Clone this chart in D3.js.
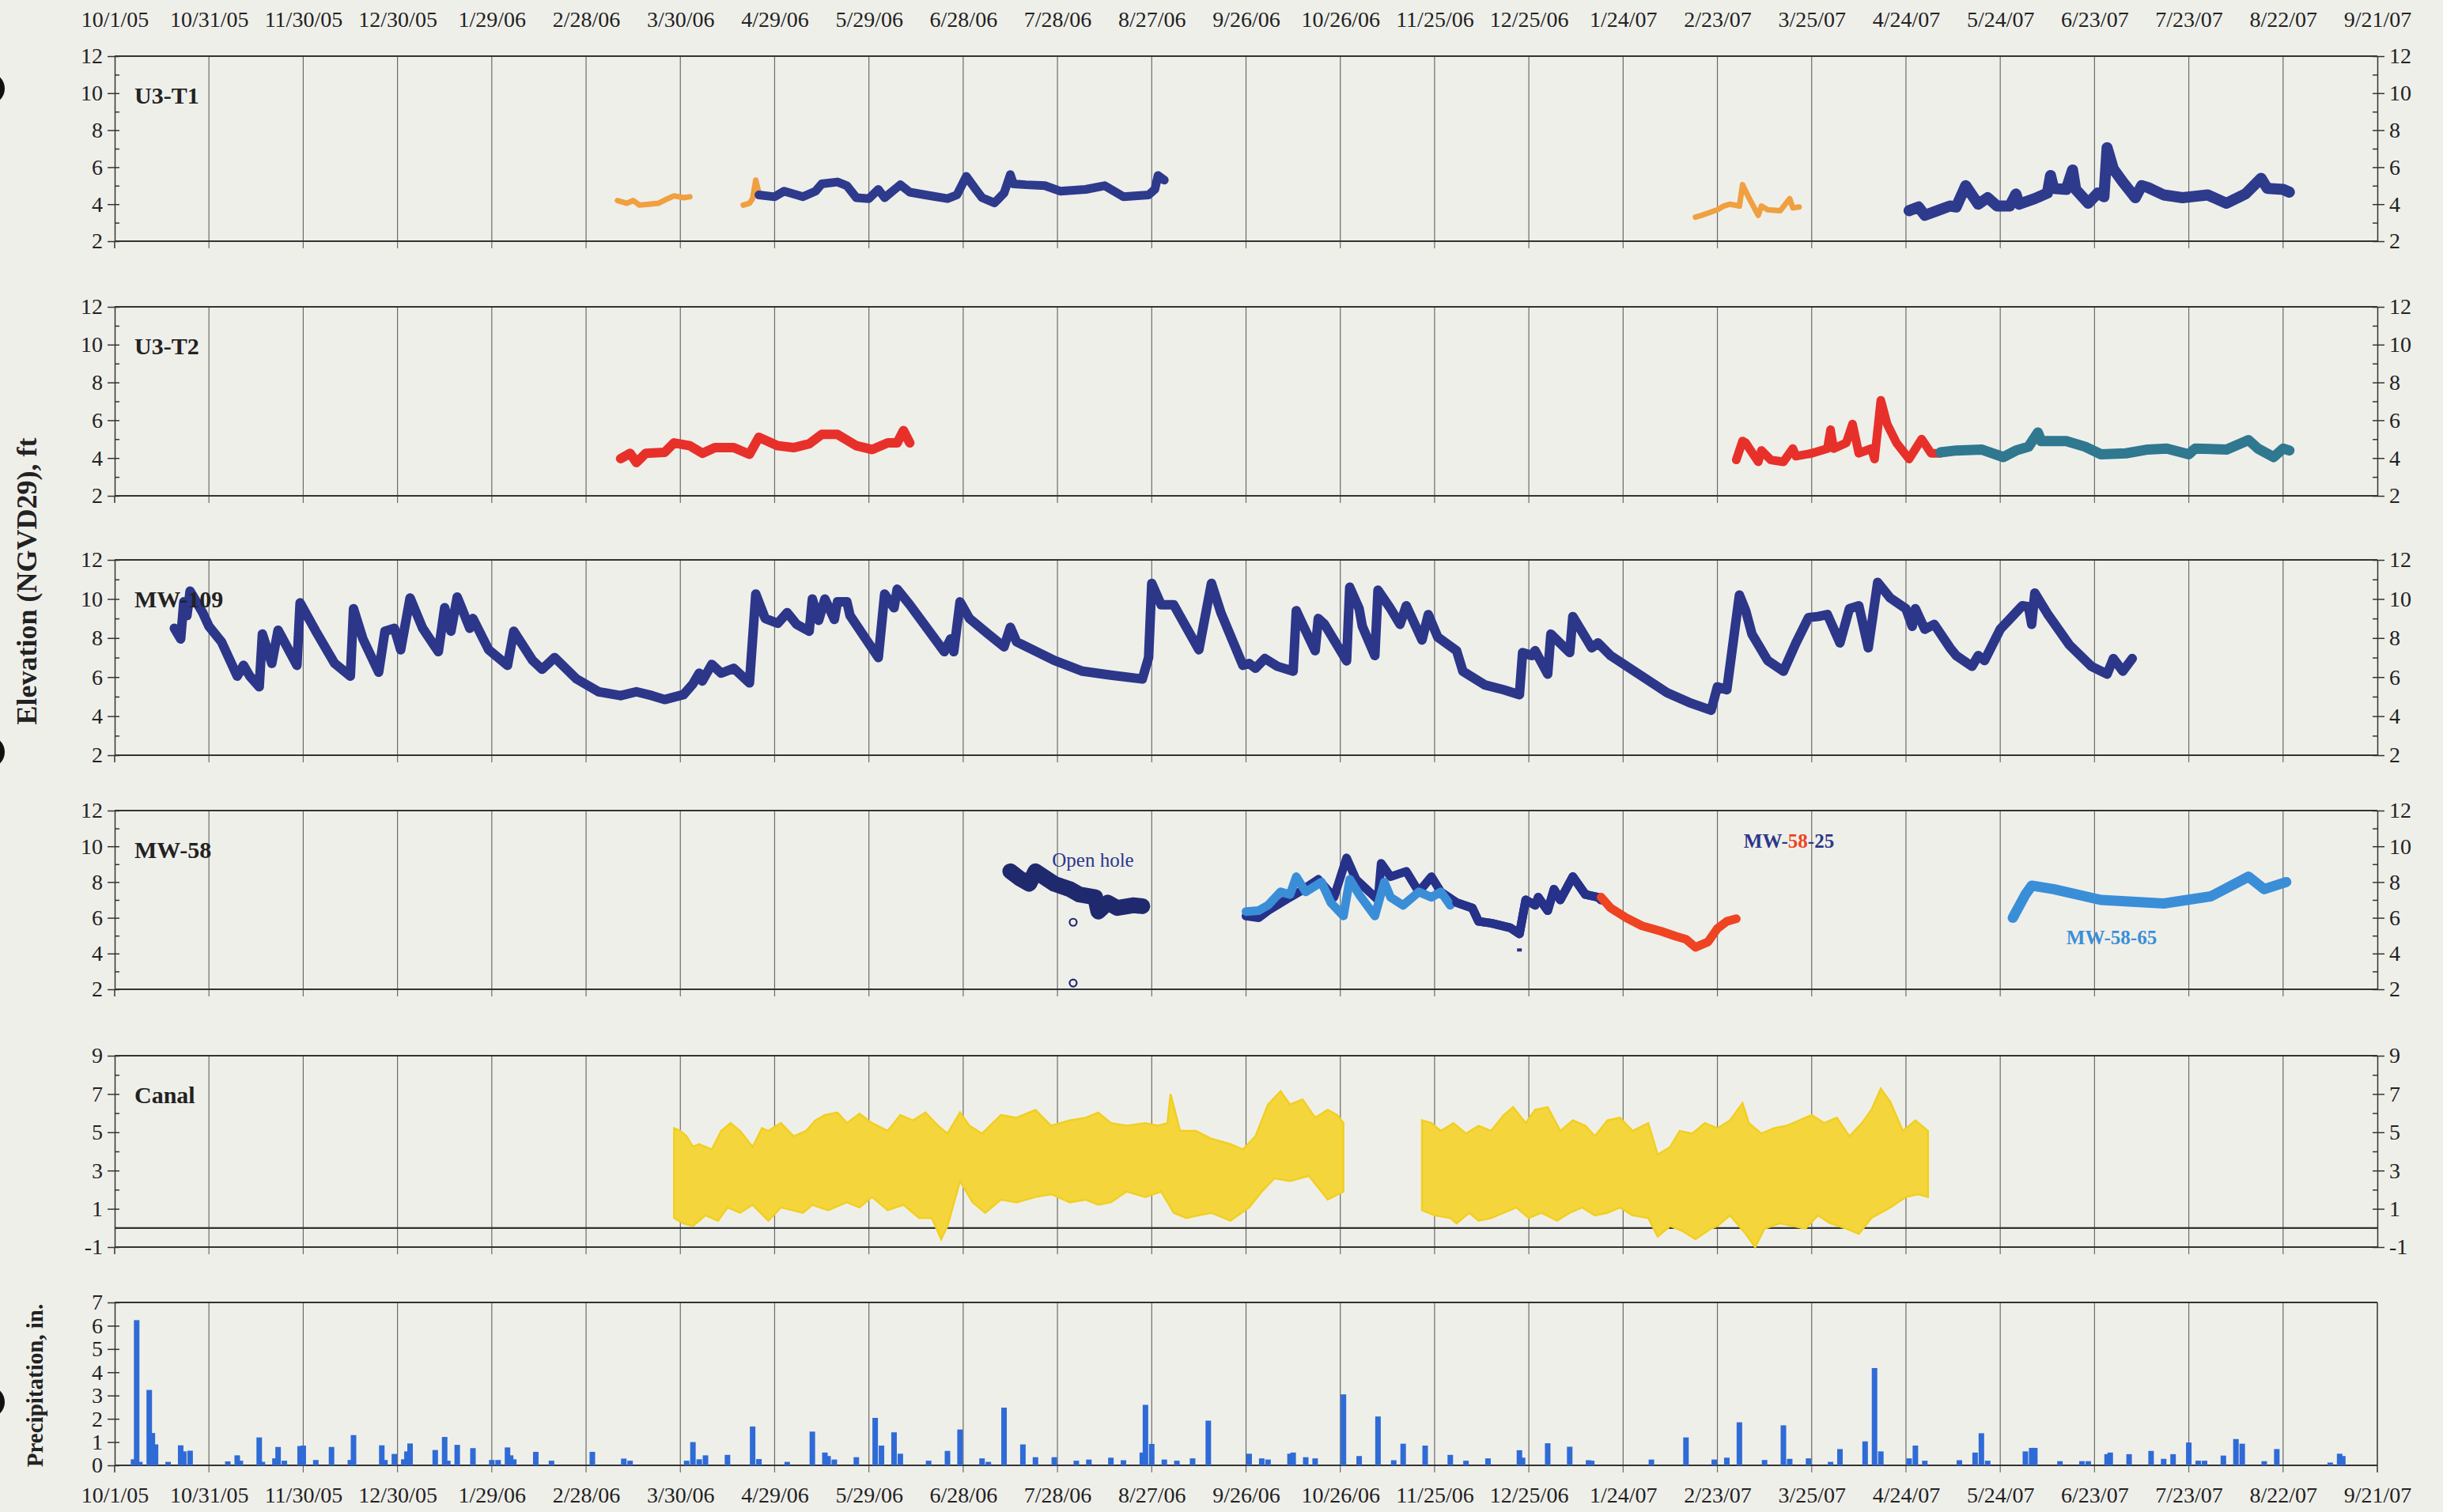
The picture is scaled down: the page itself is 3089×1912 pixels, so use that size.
<!DOCTYPE html>
<html>
<head>
<meta charset="utf-8">
<script src="https://cdnjs.cloudflare.com/ajax/libs/d3/7.8.5/d3.min.js"></script>
<style>
  body { margin: 0; background: #efefea; }
  svg { display: block; }
  text { font-family: "Liberation Serif", "Times New Roman", serif; fill: #222; }
</style>
</head>
<body>
<div id="chart"></div>
<script>
// ---- data (dates m/d/yy, elevations ft NGVD29, precipitation in.) ----
const u3t1Orange06 = [["3/10/06",4.2],["3/13/06",4.05],["3/15/06",4.2],["3/17/06",3.95],["3/20/06",4.0],["3/23/06",4.05],["3/26/06",4.3],["3/28/06",4.45],["3/31/06",4.35],["4/2/06",4.4]];
const u3t1Orange06b = [["4/19/06",3.95],["4/21/06",4.05],["4/22/06",4.3],["4/23/06",5.3],["4/24/06",4.6]];
const u3t1Blue06 = [["4/24/06",4.5],["4/29/06",4.4],["5/2/06",4.7],["5/8/06",4.4],["5/12/06",4.7],["5/14/06",5.1],["5/19/06",5.2],["5/22/06",5.0],["5/25/06",4.35],["5/29/06",4.3],["6/1/06",4.8],["6/3/06",4.35],["6/8/06",5.05],["6/11/06",4.65],["6/16/06",4.5],["6/23/06",4.3],["6/26/06",4.5],["6/29/06",5.5],["7/2/06",4.8],["7/4/06",4.35],["7/8/06",4.07],["7/11/06",4.6],["7/13/06",5.6],["7/14/06",5.1],["7/18/06",5.05],["7/24/06",5.0],["7/29/06",4.7],["8/6/06",4.8],["8/12/06",5.0],["8/18/06",4.4],["8/26/06",4.5],["8/28/06",4.8],["8/29/06",5.55],["8/31/06",5.3]];
const u3t1Orange07 = [["2/16/07",3.3],["2/18/07",3.4],["2/23/07",3.7],["2/25/07",3.9],["2/27/07",4.0],["3/2/07",3.9],["3/3/07",5.05],["3/5/07",4.35],["3/8/07",3.4],["3/9/07",3.9],["3/11/07",3.7],["3/15/07",3.65],["3/18/07",4.3],["3/19/07",3.8],["3/21/07",3.85]];
const u3t1Blue07 = [["4/25/07",3.65],["4/28/07",3.85],["4/30/07",3.4],["5/4/07",3.65],["5/8/07",3.9],["5/10/07",3.85],["5/13/07",5.0],["5/15/07",4.5],["5/17/07",4.0],["5/20/07",4.35],["5/23/07",3.9],["5/27/07",3.9],["5/29/07",4.55],["5/30/07",4.0],["6/4/07",4.3],["6/8/07",4.6],["6/9/07",5.55],["6/10/07",4.85],["6/14/07",4.8],["6/16/07",5.85],["6/17/07",4.8],["6/21/07",4.05],["6/24/07",4.6],["6/26/07",4.4],["6/27/07",7.05],["6/29/07",5.9],["7/2/07",5.2],["7/6/07",4.35],["7/8/07",5.0],["7/10/07",4.9],["7/15/07",4.5],["7/21/07",4.35],["7/29/07",4.5],["8/4/07",4.05],["8/10/07",4.55],["8/15/07",5.4],["8/17/07",4.85],["8/22/07",4.8],["8/24/07",4.65]];

const u3t2Red06 = [["3/11/06",3.97],["3/14/06",4.25],["3/16/06",3.76],["3/19/06",4.25],["3/25/06",4.3],["3/28/06",4.8],["4/2/06",4.65],["4/6/06",4.25],["4/10/06",4.55],["4/16/06",4.55],["4/21/06",4.2],["4/24/06",5.1],["4/30/06",4.65],["5/5/06",4.55],["5/10/06",4.75],["5/14/06",5.25],["5/19/06",5.25],["5/25/06",4.65],["5/30/06",4.45],["6/4/06",4.8],["6/7/06",4.8],["6/9/06",5.45],["6/11/06",4.8]];
const u3t2Red07 = [["3/1/07",3.9],["3/3/07",4.9],["3/4/07",4.8],["3/8/07",3.8],["3/9/07",4.4],["3/12/07",3.9],["3/16/07",3.8],["3/19/07",4.5],["3/20/07",4.1],["3/25/07",4.25],["3/30/07",4.5],["3/31/07",5.5],["4/1/07",4.5],["4/5/07",4.8],["4/7/07",5.8],["4/9/07",4.25],["4/13/07",4.5],["4/14/07",3.95],["4/16/07",7.05],["4/18/07",5.8],["4/21/07",4.8],["4/25/07",3.95],["4/29/07",5.0],["5/2/07",4.25],["5/5/07",4.25]];
const u3t2Teal07 = [["5/5/07",4.3],["5/10/07",4.4],["5/18/07",4.45],["5/25/07",4.05],["5/29/07",4.4],["6/2/07",4.6],["6/5/07",5.35],["6/6/07",4.9],["6/14/07",4.9],["6/20/07",4.6],["6/25/07",4.2],["7/3/07",4.25],["7/10/07",4.45],["7/16/07",4.5],["7/23/07",4.2],["7/25/07",4.5],["8/4/07",4.45],["8/11/07",4.95],["8/14/07",4.5],["8/19/07",4.05],["8/22/07",4.5],["8/24/07",4.4]];

const mw109 = [["10/20/05",8.5],["10/22/05",7.95],["10/23/05",9.85],["10/24/05",9.15],["10/25/05",10.4],["10/29/05",9.3],["10/31/05",8.6],["11/4/05",7.8],["11/9/05",6.05],["11/11/05",6.6],["11/13/05",6.05],["11/16/05",5.5],["11/17/05",8.2],["11/20/05",6.7],["11/22/05",8.4],["11/28/05",6.6],["11/29/05",9.8],["12/4/05",8.35],["12/10/05",6.7],["12/15/05",6.05],["12/16/05",9.5],["12/19/05",7.95],["12/24/05",6.25],["12/26/05",8.35],["12/29/05",8.5],["12/31/05",7.4],["1/3/06",10.05],["1/7/06",8.5],["1/12/06",7.3],["1/14/06",9.55],["1/16/06",8.35],["1/18/06",10.1],["1/22/06",8.5],["1/23/06",9.0],["1/28/06",7.4],["2/3/06",6.6],["2/5/06",8.35],["2/11/06",6.85],["2/14/06",6.4],["2/18/06",7.0],["2/25/06",5.9],["3/4/06",5.25],["3/11/06",5.05],["3/16/06",5.25],["3/21/06",5.05],["3/25/06",4.85],["3/31/06",5.1],["4/3/06",5.65],["4/5/06",6.2],["4/6/06",5.8],["4/9/06",6.65],["4/12/06",6.2],["4/16/06",6.45],["4/21/06",5.7],["4/23/06",10.25],["4/26/06",9.0],["4/30/06",8.75],["5/3/06",9.3],["5/6/06",8.7],["5/10/06",8.35],["5/11/06",10.0],["5/13/06",8.9],["5/15/06",10.0],["5/18/06",8.95],["5/19/06",9.85],["5/22/06",9.85],["5/23/06",9.15],["6/1/06",7.0],["6/3/06",10.25],["6/6/06",9.55],["6/7/06",10.5],["6/11/06",9.7],["6/22/06",7.3],["6/24/06",7.95],["6/25/06",7.3],["6/27/06",9.85],["6/30/06",9.0],["7/6/06",8.2],["7/11/06",7.55],["7/13/06",8.55],["7/15/06",7.8],["7/27/06",6.85],["8/5/06",6.3],["8/14/06",6.1],["8/24/06",5.9],["8/26/06",7.0],["8/27/06",10.8],["8/30/06",9.7],["9/3/06",9.7],["9/11/06",7.4],["9/15/06",10.8],["9/18/06",9.3],["9/25/06",6.6],["9/27/06",6.7],["9/29/06",6.45],["10/2/06",6.95],["10/6/06",6.55],["10/11/06",6.3],["10/12/06",9.4],["10/14/06",8.7],["10/18/06",7.35],["10/19/06",9.0],["10/21/06",8.7],["10/28/06",6.83],["10/29/06",10.6],["11/1/06",9.5],["11/2/06",8.6],["11/6/06",7.1],["11/7/06",10.45],["11/11/06",9.5],["11/14/06",8.7],["11/16/06",9.65],["11/21/06",7.9],["11/23/06",9.2],["11/26/06",8.05],["12/2/06",7.35],["12/4/06",6.3],["12/11/06",5.6],["12/17/06",5.35],["12/22/06",5.1],["12/23/06",7.25],["12/26/06",7.1],["12/27/06",7.35],["12/31/06",6.15],["1/1/07",8.2],["1/7/07",7.25],["1/8/07",9.1],["1/14/07",7.5],["1/16/07",7.75],["1/20/07",7.1],["1/29/07",6.15],["2/7/07",5.2],["2/14/07",4.7],["2/21/07",4.3],["2/23/07",5.5],["2/26/07",5.35],["3/2/07",10.2],["3/4/07",9.4],["3/6/07",8.2],["3/11/07",6.85],["3/16/07",6.3],["3/20/07",7.75],["3/24/07",9.05],["3/27/07",9.1],["3/30/07",9.2],["4/3/07",7.75],["4/6/07",9.5],["4/9/07",9.65],["4/12/07",7.5],["4/15/07",10.85],["4/19/07",10.05],["4/24/07",9.5],["4/26/07",8.6],["4/27/07",9.5],["4/30/07",8.45],["5/3/07",8.7],["5/8/07",7.5],["5/10/07",7.1],["5/15/07",6.55],["5/17/07",7.1],["5/19/07",6.85],["5/24/07",8.45],["5/31/07",9.65],["6/2/07",9.6],["6/3/07",8.7],["6/4/07",10.3],["6/8/07",9.25],["6/15/07",7.65],["6/22/07",6.55],["6/27/07",6.15],["6/29/07",6.95],["7/2/07",6.3],["7/5/07",6.95]];

const mw58OpenHole = [["7/13/06",8.6],["7/16/06",8.2],["7/19/06",7.9],["7/21/06",8.6],["7/27/06",7.9],["8/1/06",7.6],["8/4/06",7.3],["8/9/06",7.15],["8/10/06",6.35],["8/13/06",6.85],["8/16/06",6.55],["8/21/06",6.7],["8/24/06",6.65]];
const mw58OpenHoleOutliers = [["8/2/06",5.75],["8/2/06",2.35]];
const mw58Shallow06 = [["9/26/06",6.35],["9/30/06",6.4],["10/3/06",6.7],["10/7/06",7.45],["10/10/06",7.3],["10/12/06",8.3],["10/15/06",7.45],["10/20/06",8.0],["10/23/06",6.85],["10/27/06",6.1],["10/29/06",8.15],["11/1/06",7.3],["11/6/06",6.1],["11/9/06",8.0],["11/11/06",7.15],["11/15/06",6.7],["11/20/06",7.45],["11/24/06",7.15],["11/27/06",7.45],["11/30/06",6.7]];
const mw58Deep06 = [["9/26/06",6.1],["9/30/06",6.0],["10/3/06",6.4],["10/10/06",7.15],["10/13/06",7.45],["10/19/06",8.15],["10/24/06",7.15],["10/28/06",9.35],["10/31/06",8.15],["11/7/06",7.0],["11/8/06",9.05],["11/11/06",8.3],["11/16/06",8.6],["11/20/06",7.45],["11/24/06",8.3],["11/27/06",7.45],["12/2/06",6.85],["12/7/06",6.55],["12/9/06",5.8],["12/13/06",5.7],["12/19/06",5.45],["12/22/06",5.1],["12/24/06",7.0],["12/27/06",6.7],["12/28/06",7.15],["12/31/06",6.4],["1/2/07",7.6],["1/4/07",7.0],["1/8/07",8.3],["1/12/07",7.3],["1/16/07",7.15],["1/17/07",7.0]];
const mw58Deep06Outliers = [["12/22/06",4.2]];
const mw58_25 = [["1/17/07",7.15],["1/20/07",6.55],["1/25/07",6.0],["1/30/07",5.55],["2/5/07",5.25],["2/10/07",4.95],["2/13/07",4.8],["2/16/07",4.35],["2/20/07",4.65],["2/23/07",5.4],["2/26/07",5.8],["3/1/07",5.95]];
const mw58_65 = [["5/28/07",6.0],["6/1/07",7.3],["6/3/07",7.8],["6/10/07",7.6],["6/25/07",7.0],["7/15/07",6.8],["7/30/07",7.2],["8/11/07",8.3],["8/16/07",7.6],["8/23/07",8.0]];

// canal: upper and lower edges of the tidal range, two record periods
const canalHigh06 = [["3/28/06",5.21],["3/30/06",5.07],["4/1/06",4.79],["4/3/06",4.24],["4/5/06",4.38],["4/9/06",4.1],["4/12/06",5.07],["4/15/06",5.48],["4/18/06",5.07],["4/22/06",4.24],["4/25/06",5.21],["4/27/06",5.07],["5/1/06",5.48],["5/5/06",4.79],["5/9/06",5.07],["5/12/06",5.62],["5/15/06",5.9],["5/19/06",6.03],["5/22/06",5.48],["5/26/06",5.97],["5/30/06",5.48],["6/4/06",5.07],["6/8/06",5.9],["6/12/06",5.62],["6/16/06",6.03],["6/20/06",5.34],["6/23/06",4.93],["6/27/06",6.03],["6/30/06",5.34],["7/4/06",4.93],["7/10/06",5.9],["7/15/06",5.76],["7/21/06",6.17],["7/26/06",5.34],["8/1/06",5.62],["8/6/06",5.76],["8/10/06",6.03],["8/14/06",5.48],["8/19/06",5.34],["8/25/06",5.48],["8/29/06",5.34],["9/1/06",5.48],["9/2/06",7.0],["9/5/06",5.07],["9/10/06",5.07],["9/15/06",4.66],["9/21/06",4.38],["9/25/06",4.1],["9/29/06",4.79],["10/3/06",6.45],["10/7/06",7.14],["10/10/06",6.45],["10/14/06",6.72],["10/18/06",5.76],["10/22/06",6.17],["10/25/06",5.9],["10/27/06",5.48]];
const canalLow06 = [["3/28/06",0.52],["3/31/06",0.24],["4/3/06",0.1],["4/7/06",0.66],["4/11/06",0.38],["4/14/06",1.07],["4/18/06",0.79],["4/22/06",1.21],["4/27/06",0.38],["5/1/06",1.07],["5/8/06",0.79],["5/11/06",1.21],["5/16/06",0.93],["5/22/06",1.34],["5/26/06",1.07],["5/30/06",1.62],["6/4/06",0.93],["6/9/06",1.21],["6/14/06",0.52],["6/18/06",0.52],["6/21/06",-0.59],["6/23/06",0.1],["6/27/06",2.45],["7/1/06",1.34],["7/5/06",0.79],["7/10/06",1.48],["7/15/06",1.34],["7/21/06",1.62],["7/26/06",1.76],["8/1/06",1.34],["8/6/06",1.48],["8/10/06",1.21],["8/14/06",1.34],["8/19/06",1.9],["8/25/06",1.62],["8/30/06",1.9],["9/3/06",0.79],["9/7/06",0.52],["9/11/06",0.66],["9/15/06",0.79],["9/21/06",0.38],["9/27/06",1.07],["10/1/06",1.9],["10/5/06",2.59],["10/10/06",2.45],["10/16/06",2.72],["10/20/06",1.9],["10/22/06",1.48],["10/27/06",1.9]];
const canalHigh07 = [["11/21/06",5.62],["11/24/06",5.48],["11/27/06",5.07],["12/1/06",5.48],["12/5/06",4.93],["12/9/06",5.34],["12/13/06",5.07],["12/17/06",5.9],["12/20/06",6.31],["12/24/06",5.48],["12/27/06",6.17],["12/31/06",6.31],["1/4/07",5.07],["1/8/07",5.62],["1/12/07",5.34],["1/15/07",4.79],["1/19/07",5.62],["1/23/07",5.76],["1/27/07",5.07],["2/1/07",5.48],["2/4/07",3.83],["2/8/07",4.24],["2/11/07",5.07],["2/15/07",4.93],["2/19/07",5.48],["2/23/07",5.21],["2/27/07",5.62],["3/3/07",6.52],["3/5/07",5.48],["3/9/07",4.93],["3/13/07",5.21],["3/17/07",5.34],["3/21/07",5.62],["3/25/07",5.9],["3/29/07",5.48],["4/2/07",5.76],["4/6/07",4.79],["4/10/07",5.48],["4/13/07",6.17],["4/16/07",7.28],["4/19/07",6.59],["4/23/07",5.07],["4/27/07",5.62],["5/1/07",5.07]];
const canalLow07 = [["11/21/06",0.93],["11/25/06",0.66],["11/30/06",0.52],["12/2/06",0.24],["12/6/06",0.79],["12/9/06",0.38],["12/13/06",0.52],["12/17/06",0.79],["12/21/06",1.07],["12/25/06",0.52],["12/29/06",0.79],["1/3/07",0.38],["1/7/07",0.79],["1/11/07",1.07],["1/15/07",0.66],["1/19/07",0.79],["1/23/07",1.07],["1/27/07",0.66],["2/1/07",0.52],["2/4/07",-0.45],["2/8/07",0.1],["2/12/07",-0.17],["2/16/07",-0.59],["2/21/07",-0.03],["2/23/07",0.1],["2/27/07",0.66],["3/4/07",-0.31],["3/7/07",-1.0],["3/10/07",-0.03],["3/15/07",0.24],["3/19/07",0.1],["3/23/07",-0.03],["3/27/07",0.66],["3/31/07",0.24],["4/5/07",-0.03],["4/9/07",-0.31],["4/13/07",0.52],["4/19/07",1.07],["4/24/07",1.62],["4/28/07",1.76],["5/1/07",1.62]];

const precip = [["10/7/05",0.26],["10/8/05",6.24],["10/9/05",0.15],["10/12/05",3.24],["10/13/05",1.39],["10/14/05",0.9],["10/18/05",0.15],["10/22/05",0.86],["10/23/05",0.6],["10/25/05",0.63],["11/6/05",0.17],["11/9/05",0.43],["11/10/05",0.2],["11/16/05",1.2],["11/17/05",0.15],["11/21/05",0.3],["11/22/05",0.79],["11/24/05",0.2],["11/29/05",0.83],["11/30/05",0.85],["12/4/05",0.23],["12/9/05",0.79],["12/15/05",0.23],["12/16/05",1.3],["12/25/05",0.86],["12/26/05",0.23],["12/29/05",0.49],["1/1/06",0.26],["1/2/06",0.6],["1/3/06",0.94],["1/11/06",0.66],["1/14/06",1.22],["1/15/06",0.2],["1/18/06",0.88],["1/23/06",0.74],["1/29/06",0.23],["1/31/06",0.23],["2/3/06",0.77],["2/4/06",0.43],["2/5/06",0.26],["2/12/06",0.58],["2/17/06",0.2],["3/2/06",0.58],["3/12/06",0.29],["3/14/06",0.2],["4/1/06",0.2],["4/3/06",1.0],["4/5/06",0.26],["4/7/06",0.43],["4/14/06",0.45],["4/22/06",1.67],["4/24/06",0.27],["5/3/06",0.15],["5/11/06",1.45],["5/15/06",0.55],["5/16/06",0.4],["5/18/06",0.25],["5/25/06",0.35],["5/31/06",2.04],["6/2/06",0.85],["6/6/06",1.42],["6/8/06",0.5],["6/17/06",0.2],["6/23/06",0.62],["6/27/06",1.54],["7/4/06",0.3],["7/6/06",0.15],["7/11/06",2.48],["7/17/06",0.9],["7/21/06",0.35],["7/27/06",0.35],["8/3/06",0.2],["8/7/06",0.25],["8/14/06",0.33],["8/18/06",0.22],["8/24/06",0.55],["8/25/06",2.6],["8/27/06",0.92],["8/31/06",0.25],["9/4/06",0.2],["9/9/06",0.3],["9/14/06",1.92],["9/27/06",0.5],["10/1/06",0.3],["10/3/06",0.25],["10/10/06",0.5],["10/11/06",0.55],["10/15/06",0.35],["10/18/06",0.3],["10/27/06",3.05],["11/1/06",0.4],["11/7/06",2.1],["11/12/06",0.22],["11/15/06",0.93],["11/22/06",0.85],["11/30/06",0.45],["12/5/06",0.2],["12/12/06",0.3],["12/22/06",0.65],["12/23/06",0.33],["12/31/06",0.95],["1/7/07",0.8],["1/13/07",0.22],["1/14/07",0.2],["2/2/07",0.25],["2/13/07",1.2],["2/22/07",0.25],["2/26/07",0.33],["3/2/07",1.85],["3/10/07",0.23],["3/16/07",1.72],["3/18/07",0.28],["3/24/07",0.3],["3/31/07",0.15],["4/3/07",0.7],["4/11/07",1.03],["4/14/07",4.18],["4/16/07",0.6],["4/25/07",0.3],["4/27/07",0.85],["4/30/07",0.2],["5/11/07",0.22],["5/16/07",0.55],["5/18/07",1.38],["5/20/07",0.2],["6/1/07",0.6],["6/3/07",0.75],["6/4/07",0.75],["6/12/07",0.18],["6/19/07",0.18],["6/21/07",0.18],["6/27/07",0.48],["6/28/07",0.55],["7/4/07",0.48],["7/11/07",0.62],["7/15/07",0.28],["7/18/07",0.48],["7/23/07",0.98],["7/26/07",0.2],["7/28/07",0.2],["8/3/07",0.42],["8/7/07",1.13],["8/9/07",0.93],["8/16/07",0.18],["8/20/07",0.7],["9/6/07",0.12],["9/9/07",0.5],["9/10/07",0.4]];

// ---- layout ----
const parseDate = d3.timeParse("%m/%d/%y");
const fmt = d3.timeFormat("%-m/%-d/%y");
const startDate = parseDate("10/1/05");
const tickDates = d3.range(25).map(i => d3.timeDay.offset(startDate, i * 30));

const x = d3.scaleTime()
    .domain([startDate, tickDates[24]])
    .range([145, 3006]);
const x0 = x.range()[0], x1 = x.range()[1];

const svg = d3.select("#chart").append("svg")
    .attr("width", 3089)
    .attr("height", 1912);

svg.append("rect").attr("width", 3089).attr("height", 1912).attr("fill", "#efefea");

// binder holes on the scanned page
[112, 951, 1773].forEach(cy => {
    svg.append("circle").attr("cx", -14).attr("cy", cy).attr("r", 20).attr("fill", "#111");
});

const panels = [
    { label: "U3-T1", top: 71, bottom: 305, domain: [2, 12], major: [2, 4, 6, 8, 10, 12], minor: [3, 5, 7, 9, 11] },
    { label: "U3-T2", top: 388, bottom: 627, domain: [2, 12], major: [2, 4, 6, 8, 10, 12], minor: [3, 5, 7, 9, 11] },
    { label: "MW-109", top: 708, bottom: 955, domain: [2, 12], major: [2, 4, 6, 8, 10, 12], minor: [3, 5, 7, 9, 11] },
    { label: "MW-58", top: 1025, bottom: 1251, domain: [2, 12], major: [2, 4, 6, 8, 10, 12], minor: [3, 5, 7, 9, 11] },
    { label: "Canal", top: 1335, bottom: 1577, domain: [-1, 9], major: [-1, 1, 3, 5, 7, 9], minor: [0, 2, 4, 6, 8], zero: true },
    { label: null, top: 1647, bottom: 1853, domain: [0, 7], major: [0, 1, 2, 3, 4, 5, 6, 7], minor: [], noRight: true }
];
const plain = d => String(d);

panels.forEach(p => {
    p.y = d3.scaleLinear().domain(p.domain).range([p.bottom, p.top]);
    const g = svg.append("g");

    // vertical grid lines, running a little below the panel as tick marks
    g.selectAll(".grid").data(tickDates.slice(1, 24)).join("line")
        .attr("x1", d => x(d)).attr("x2", d => x(d))
        .attr("y1", p.top).attr("y2", p.bottom + 9)
        .attr("stroke", "#6a6a6a").attr("stroke-width", 1.2);

    // top & bottom frame
    [p.top, p.bottom].forEach(yy => {
        g.append("line").attr("x1", x0).attr("x2", x1).attr("y1", yy).attr("y2", yy)
            .attr("stroke", "#333").attr("stroke-width", 2.2);
    });
    if (p.zero) {
        g.append("line").attr("x1", x0).attr("x2", x1).attr("y1", p.y(0)).attr("y2", p.y(0))
            .attr("stroke", "#333").attr("stroke-width", 2.2);
    }

    // left axis: labels + outward major ticks, then inner ticks
    g.append("g").attr("class", "axis")
        .attr("transform", `translate(${x0},0)`)
        .call(d3.axisLeft(p.y).tickValues(p.major).tickFormat(plain).tickSizeInner(9).tickSizeOuter(0).tickPadding(6));
    g.append("g").attr("class", "axis")
        .attr("transform", `translate(${x0},0)`)
        .call(d3.axisRight(p.y).tickValues(p.major.concat(p.minor)).tickSize(6).tickFormat(""))
        .select(".domain").remove();
    g.append("line").attr("x1", x0).attr("x2", x0).attr("y1", p.bottom).attr("y2", p.bottom + 9)
        .attr("stroke", "#333").attr("stroke-width", 1.5);

    if (!p.noRight) {
        g.append("g").attr("class", "axis")
            .attr("transform", `translate(${x1},0)`)
            .call(d3.axisRight(p.y).tickValues(p.major).tickFormat(plain).tickSizeInner(9).tickSizeOuter(0).tickPadding(6));
        g.append("g").attr("class", "axis")
            .attr("transform", `translate(${x1},0)`)
            .call(d3.axisLeft(p.y).tickValues(p.major.concat(p.minor)).tickSize(6).tickFormat(""))
            .select(".domain").remove();
    } else {
        g.append("line").attr("x1", x1).attr("x2", x1).attr("y1", p.top).attr("y2", p.bottom + 9)
            .attr("stroke", "#333").attr("stroke-width", 1.5);
    }
});

svg.selectAll(".axis path, .axis line").attr("stroke", "#333").attr("stroke-width", 1.5);
svg.selectAll(".axis text").attr("font-size", 28).attr("fill", "#222")
    .attr("font-family", "'Liberation Serif', serif");

// date labels top & bottom
svg.append("g").attr("class", "dates")
    .attr("transform", "translate(0,34)")
    .call(d3.axisTop(x).tickValues(tickDates).tickFormat(fmt).tickSize(0).tickPadding(0))
    .call(g => g.select(".domain").remove());
svg.append("g").attr("class", "dates")
    .attr("transform", "translate(0,1880)")
    .call(d3.axisBottom(x).tickValues(tickDates).tickFormat(fmt).tickSize(0).tickPadding(0))
    .call(g => g.select(".domain").remove());
svg.selectAll(".dates text").attr("font-size", 28).attr("fill", "#222")
    .attr("font-family", "'Liberation Serif', serif");

// ---- series ----
function drawLine(p, data, color, width) {
    const line = d3.line()
        .x(d => x(parseDate(d[0])))
        .y(d => p.y(d[1]));
    svg.append("path").datum(data)
        .attr("d", line)
        .attr("fill", "none")
        .attr("stroke", color)
        .attr("stroke-width", width)
        .attr("stroke-linejoin", "round")
        .attr("stroke-linecap", "round");
}
function drawRings(p, data, color) {
    svg.append("g").selectAll("circle").data(data).join("circle")
        .attr("cx", d => x(parseDate(d[0])))
        .attr("cy", d => p.y(d[1]))
        .attr("r", 4.5)
        .attr("fill", "none")
        .attr("stroke", color)
        .attr("stroke-width", 2.2);
}

const [pT1, pT2, pMW109, pMW58, pCanal, pRain] = panels;

// canal tidal band (drawn first so the frame lines stay visible on top of it)
const bandLine = d3.line()
    .x(d => x(parseDate(d[0])))
    .y(d => pCanal.y(d[1]))
    .curve(d3.curveLinearClosed);
[[canalHigh06, canalLow06], [canalHigh07, canalLow07]].forEach(([hi, lo]) => {
    svg.append("path").datum(hi.concat(lo.slice().reverse()))
        .attr("d", bandLine)
        .attr("fill", "#f4d63c")
        .attr("stroke", "#f1cf22")
        .attr("stroke-width", 2.5)
        .attr("stroke-linejoin", "miter");
});

drawLine(pT1, u3t1Orange06, "#f0a040", 7);
drawLine(pT1, u3t1Orange06b, "#f0a040", 7);
drawLine(pT1, u3t1Blue06, "#2e3a8c", 11);
drawLine(pT1, u3t1Orange07, "#f0a040", 7);
drawLine(pT1, u3t1Blue07, "#2e3a8c", 14);

drawLine(pT2, u3t2Red06, "#e8302a", 12);
drawLine(pT2, u3t2Red07, "#e8302a", 11);
drawLine(pT2, u3t2Teal07, "#2f7890", 13);

drawLine(pMW109, mw109, "#2c378a", 12);

drawLine(pMW58, mw58OpenHole, "#1f2a6e", 20);
drawRings(pMW58, mw58OpenHoleOutliers, "#1f2a6e");
drawLine(pMW58, mw58Deep06, "#26318a", 11);
drawLine(pMW58, mw58Shallow06, "#3a8ed8", 11);
drawLine(pMW58, mw58Deep06.slice(16), "#26318a", 11);
drawLine(pMW58, mw58_25, "#ee4422", 11);
drawLine(pMW58, mw58_65, "#3a8ed8", 13);
svg.append("g").selectAll("rect").data(mw58Deep06Outliers).join("rect")
    .attr("x", d => x(parseDate(d[0])) - 3).attr("y", d => pMW58.y(d[1]) - 2)
    .attr("width", 6).attr("height", 4).attr("fill", "#26318a");

// precipitation bars
svg.append("g").selectAll("rect").data(precip).join("rect")
    .attr("x", d => x(parseDate(d[0])) - 3.5)
    .attr("y", d => pRain.y(d[1]))
    .attr("width", 7)
    .attr("height", d => pRain.y(0) - pRain.y(d[1]))
    .attr("fill", "#2f6bd6");

// panel names
panels.filter(p => p.label).forEach(p => {
    svg.append("text").attr("x", 170).attr("y", p.top + 60)
        .attr("font-size", 30).attr("font-weight", "bold").text(p.label);
});

// MW-58 annotations
svg.append("text").attr("x", 1382).attr("y", 1096).attr("text-anchor", "middle")
    .attr("font-size", 25).style("fill", "#2c378a").text("Open hole");
const lab25 = svg.append("text").attr("x", 2262).attr("y", 1072).attr("text-anchor", "middle")
    .attr("font-size", 25).attr("font-weight", "bold");
lab25.append("tspan").style("fill", "#2c378a").text("MW-");
lab25.append("tspan").style("fill", "#ee4422").text("58");
lab25.append("tspan").style("fill", "#2c378a").text("-25");
svg.append("text").attr("x", 2670).attr("y", 1194).attr("text-anchor", "middle")
    .attr("font-size", 25).attr("font-weight", "bold").style("fill", "#3a8ed8").text("MW-58-65");

// axis titles
svg.append("text")
    .attr("transform", "translate(46,735) rotate(-90)")
    .attr("text-anchor", "middle")
    .attr("font-size", 36).attr("font-weight", "bold")
    .text("Elevation (NGVD29), ft");
svg.append("text")
    .attr("transform", "translate(54,1752) rotate(-90)")
    .attr("text-anchor", "middle")
    .attr("font-size", 29).attr("font-weight", "bold")
    .text("Precipitation, in.");
</script>
</body>
</html>
